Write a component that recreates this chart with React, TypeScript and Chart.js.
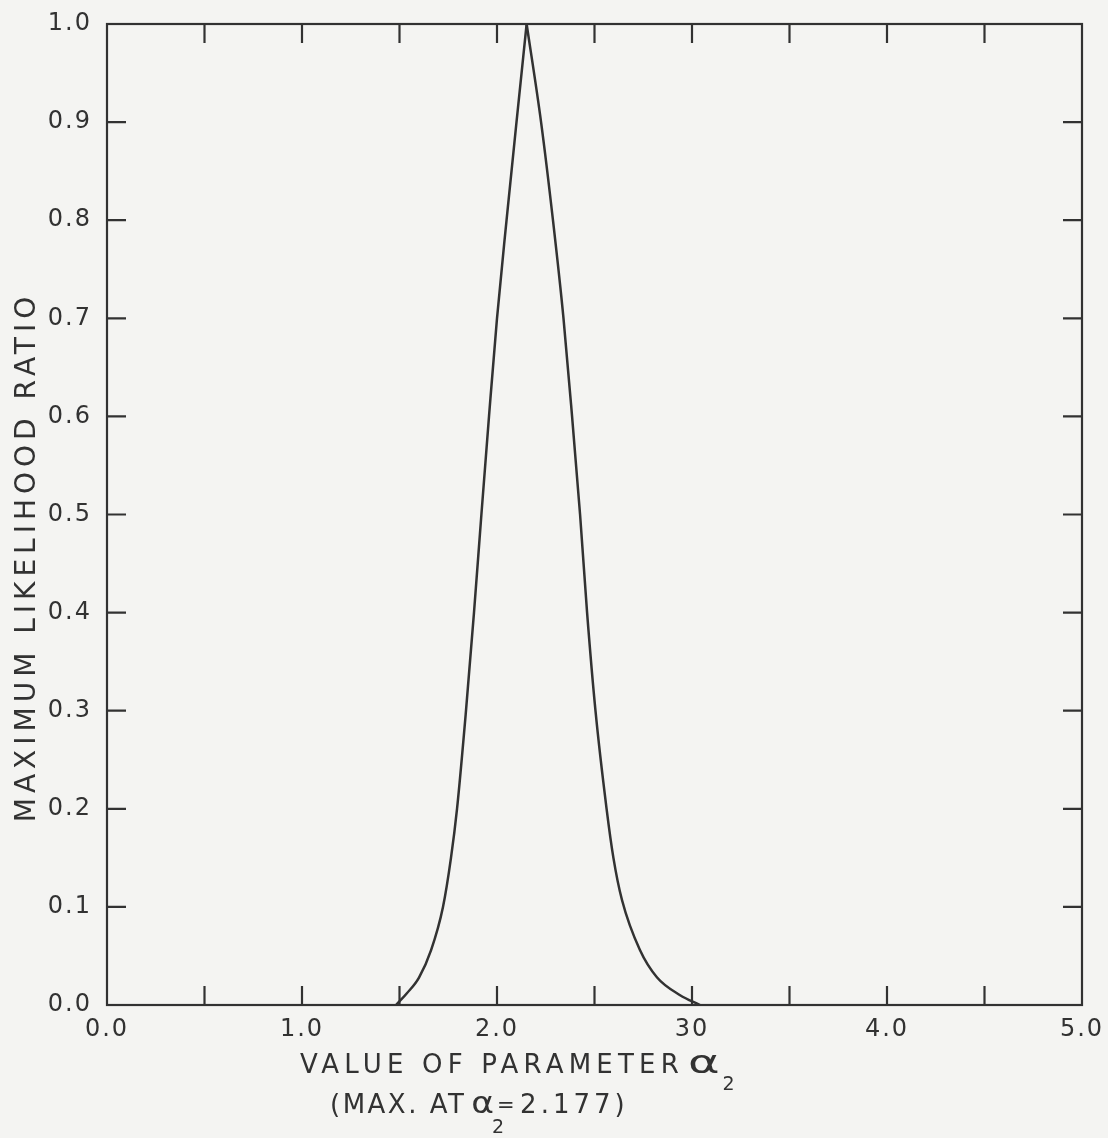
import { useEffect, useRef } from "react";
import { Chart, registerables } from "chart.js";

Chart.register(...registerables);

// Curve (value of alpha_2 vs maximum likelihood ratio)
const alphaLeft = [1.482, 1.538, 1.6, 1.662, 1.723, 1.764, 1.795, 1.841, 1.882, 1.92, 1.959, 2.0, 2.049, 2.1, 2.152];
const ratioLeft = [0.0, 0.012, 0.028, 0.056, 0.1, 0.15, 0.2, 0.3, 0.4, 0.5, 0.6, 0.7, 0.8, 0.9, 1.0];
const alphaRight = [2.152, 2.226, 2.287, 2.341, 2.385, 2.426, 2.462, 2.505, 2.562, 2.597, 2.641, 2.733, 2.821, 2.939, 3.041];
const ratioRight = [1.0, 0.9, 0.8, 0.7, 0.6, 0.5, 0.4, 0.3, 0.2, 0.15, 0.107, 0.056, 0.028, 0.01, 0.0];

const xTickLabels = ["0.0", "1.0", "2.0", "30", "4.0", "5.0"];
const yTickLabels = ["0.0", "0.1", "0.2", "0.3", "0.4", "0.5", "0.6", "0.7", "0.8", "0.9", "1.0"];
const xMarkValues = [0.5, 1.0, 1.5, 2.0, 2.5, 3.0, 3.5, 4.0, 4.5];
const yMarkValues = [0.1, 0.2, 0.3, 0.4, 0.5, 0.6, 0.7, 0.8, 0.9];

const yTitle = "MAXIMUM LIKELIHOOD RATIO";
const xTitle1 = "VALUE OF PARAMETER";
const xTitle2a = "(MAX. AT";
const xTitle2eq = "=";
const xTitle2b = "2.177)";
const alphaSym = "\u03B1";
const subTwo = "2";

const INK = "#323232";
const FONT = '"DejaVu Sans", sans-serif';

function drawAlpha(ctx: any, text: string, x: number, y: number, size: number, sx: number) {
  ctx.save();
  ctx.letterSpacing = "0px";
  ctx.font = size + "px " + FONT;
  ctx.translate(x, y);
  ctx.scale(sx, 1);
  ctx.fillText(text, 0, 0);
  const w = ctx.measureText(text).width * sx;
  ctx.restore();
  return w;
}

const framePlugin = {
  id: "frameAndTitles",
  beforeDraw(chart: any) {
    const ctx = chart.ctx;
    ctx.save();
    ctx.fillStyle = "#f4f4f2";
    ctx.fillRect(0, 0, chart.width, chart.height);
    ctx.restore();
    ctx.letterSpacing = "2px";
  },
  afterDraw(chart: any) {
    const ctx = chart.ctx;
    const { left, right, top, bottom } = chart.chartArea;
    const xs = chart.scales.x;
    const ys = chart.scales.y;
    const tl = 19;
    ctx.save();
    ctx.strokeStyle = INK;
    ctx.lineWidth = 2.2;
    ctx.strokeRect(left, top, right - left, bottom - top);
    ctx.beginPath();
    xMarkValues.forEach((v) => {
      const px = xs.getPixelForValue(v);
      ctx.moveTo(px, bottom);
      ctx.lineTo(px, bottom - tl);
      ctx.moveTo(px, top);
      ctx.lineTo(px, top + tl);
    });
    yMarkValues.forEach((v) => {
      const py = ys.getPixelForValue(v);
      ctx.moveTo(left, py);
      ctx.lineTo(left + tl, py);
      ctx.moveTo(right, py);
      ctx.lineTo(right - tl, py);
    });
    ctx.stroke();

    ctx.fillStyle = INK;
    // y title
    ctx.save();
    ctx.letterSpacing = "5px";
    ctx.font = "28px " + FONT;
    ctx.translate(28, 557);
    ctx.rotate(-Math.PI / 2);
    ctx.textAlign = "center";
    ctx.textBaseline = "middle";
    ctx.fillText(yTitle, 0, 0);
    ctx.restore();

    // x title line 1
    ctx.textAlign = "left";
    ctx.textBaseline = "alphabetic";
    ctx.letterSpacing = "5.2px";
    ctx.font = "26px " + FONT;
    let x = 300;
    const base1 = 1073;
    ctx.fillText(xTitle1, x, base1);
    x += ctx.measureText(xTitle1).width + 4;
    x += drawAlpha(ctx, alphaSym, x, base1, 32, 1.5) + 3;
    ctx.letterSpacing = "0px";
    ctx.font = "19px " + FONT;
    ctx.fillText(subTwo, x, base1 + 17);

    // x title line 2
    const base2 = 1113;
    x = 330;
    ctx.letterSpacing = "2.5px";
    ctx.font = "26px " + FONT;
    ctx.fillText(xTitle2a, x, base2);
    x += ctx.measureText(xTitle2a).width + 5;
    const ax = x + drawAlpha(ctx, alphaSym, x, base2, 30, 1.15);
    ctx.letterSpacing = "0px";
    ctx.font = "19px " + FONT;
    ctx.fillText(subTwo, ax - 2, base2 + 20);
    ctx.font = "21px " + FONT;
    ctx.fillText(xTitle2eq, ax + 3, base2 - 1);
    ctx.letterSpacing = "4px";
    ctx.font = "26px " + FONT;
    ctx.fillText(xTitle2b, ax + 26, base2);
    ctx.restore();
  },
};

export default function App() {
  const ref = useRef<HTMLCanvasElement | null>(null);
  useEffect(() => {
    if (!ref.current) return;
    const lineStyle = {
      borderColor: INK,
      borderWidth: 2.5,
      pointRadius: 0,
      fill: false,
      cubicInterpolationMode: "monotone" as const,
      clip: 4,
    };
    const chart = new Chart(ref.current, {
      type: "line",
      data: {
        datasets: [
          { ...lineStyle, label: "left", data: alphaLeft.map((a, i) => ({ x: a, y: ratioLeft[i] })) },
          { ...lineStyle, label: "right", data: alphaRight.map((a, i) => ({ x: a, y: ratioRight[i] })) },
        ],
      },
      options: {
        animation: false,
        responsive: false,
        layout: { padding: { top: 24, right: 26, left: 0, bottom: 0 } },
        plugins: { legend: { display: false }, tooltip: { enabled: false } },
        scales: {
          x: {
            type: "linear",
            min: 0,
            max: 5,
            grid: { display: false, drawTicks: false },
            border: { display: false },
            ticks: {
              stepSize: 1,
              padding: 10,
              color: INK,
              font: { family: FONT, size: 24 },
              maxRotation: 0,
              callback: (_v: any, i: number) => xTickLabels[i] ?? "",
            },
            afterFit: (s: any) => {
              s.height = 133;
              s.paddingLeft = 0;
              s.paddingRight = 0;
            },
          },
          y: {
            type: "linear",
            min: 0,
            max: 1,
            grid: { display: false, drawTicks: false },
            border: { display: false },
            ticks: {
              stepSize: 0.1,
              padding: 15,
              color: INK,
              font: { family: FONT, size: 24 },
              callback: (_v: any, i: number) => yTickLabels[i] ?? "",
            },
            afterFit: (s: any) => {
              s.width = 107;
              s.paddingTop = 0;
              s.paddingBottom = 0;
            },
          },
        },
      },
      plugins: [framePlugin],
    });
    return () => chart.destroy();
  }, []);
  return (
    <div style={{ position: "absolute", left: 0, top: 0, width: 1108, height: 1138 }}>
      <canvas ref={ref} width={1108} height={1138} style={{ display: "block" }} />
    </div>
  );
}
